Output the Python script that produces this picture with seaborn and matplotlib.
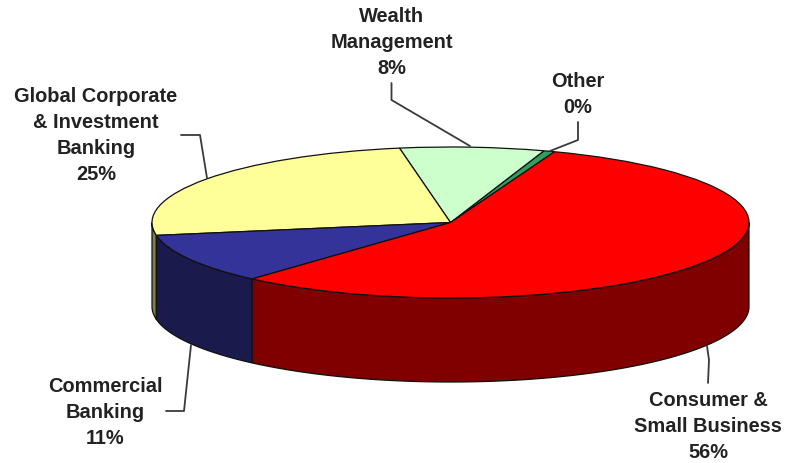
import numpy as np
import matplotlib
matplotlib.use("Agg")
import matplotlib.pyplot as plt
import seaborn as sns

segments = ["Other", "Wealth\nManagement", "Global Corporate\n& Investment\nBanking", "Commercial\nBanking", "Consumer &\nSmall Business"]
shares = [0.6, 7.8, 25, 10.7, 55.9]
shown_pct = [0, 8, 25, 11, 56]
top_colors = ["#2f9e5f", "#ccffcc", "#ffff99", "#333399", "#ff0000"]
side_colors = ["#17503a", "#667f66", "#80804d", "#1a1a4d", "#800000"]
label_pos = [(578, 94.5), (392, 42.5), (96, 135.5), (105, 412.5), (708, 426.5)]
leaders = [
    [(578, 122), (578, 140), (550, 151)],
    [(391.5, 83), (391.5, 100), (470, 146)],
    [(181, 135), (200, 135), (207, 178)],
    [(166, 411), (184, 411), (191, 345)],
    [(707, 346), (709, 360), (708, 383)],
]

W, H = 788, 463
CX, CY, RX, RY, DEPTH = 450.5, 222.5, 298.5, 75.5, 84.0
START = 69.6

sns.set_theme(style="white")
plt.rcParams["font.family"] = ["Liberation Sans", "DejaVu Sans"]

fig = plt.figure(figsize=(W / 100, H / 100), dpi=100)
ax = fig.add_axes([0, 0, 1, 1])

wedges, _ = ax.pie(shares, colors=top_colors, startangle=START, counterclock=True, radius=1.0,
                   wedgeprops=dict(edgecolor="#111111", linewidth=0.9, zorder=3))
ax.set_aspect("auto")
ax.set_xlim(-CX / RX, (W - CX) / RX)
ax.set_ylim(-(H - CY) / RY, CY / RY)
ax.axis("off")

depth = DEPTH / RY
fracs = np.array(shares) / np.sum(shares) * 360
a0 = START
for frac, col in zip(fracs, side_colors):
    a1 = a0 + frac
    for lo, hi in [(a0, a1), (a0 - 360, a1 - 360)]:
        lo_c, hi_c = max(lo, 180), min(hi, 360)
        if hi_c > lo_c:
            t = np.radians(np.linspace(lo_c, hi_c, 200))
            xs = np.r_[np.cos(t), np.cos(t)[::-1]]
            ys = np.r_[np.sin(t), np.sin(t)[::-1] - depth]
            ax.fill(xs, ys, facecolor=col, edgecolor="#111111", linewidth=0.9, zorder=2)
    a0 = a1

def to_data(p):
    return (p[0] - CX) / RX, (CY - p[1]) / RY

for pts in leaders:
    d = np.array([to_data(p) for p in pts])
    ax.plot(d[:, 0], d[:, 1], color="#3a3a3a", lw=1.3, zorder=4, clip_on=False)

for name, pct, pos in zip(segments, shown_pct, label_pos):
    x, y = to_data(pos)
    ax.text(x, y, f"{name}\n{pct}%", ha="center", va="center", fontsize=14.4,
            fontweight="bold", color="#222222", linespacing=1.47, zorder=5)

fig.savefig("out.png", dpi=100)
